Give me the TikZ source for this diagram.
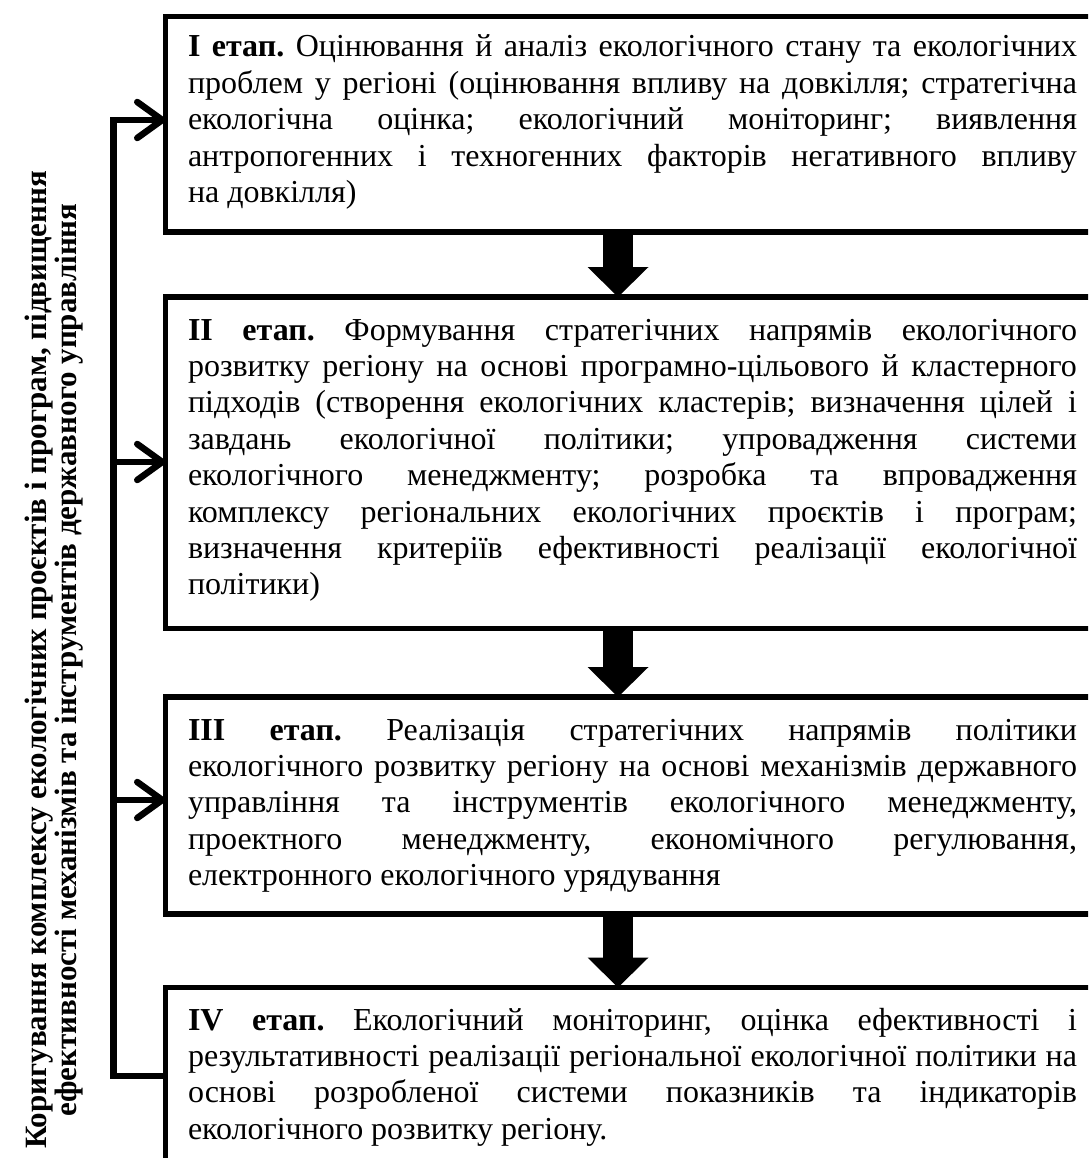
\documentclass[tikz,border=0pt]{standalone}
\usepackage{fontspec}
\setmainfont{Liberation Serif}
\usetikzlibrary{arrows.meta,calc}
\frenchspacing
\newcommand\bdfont{\fontsize{32}{36.4}\selectfont}
\newcommand\sdfont{\fontsize{31}{27}\selectfont\bfseries}
\newcommand\boxtext[1]{\parbox[t]{889pt}{\bdfont\frenchspacing\hyphenpenalty=10000\exhyphenpenalty=10000\tolerance=10000 #1}}
\tikzset{
  stagebox/.style={draw, line width=5.5pt, rectangle, inner sep=0pt, outer sep=0pt, anchor=north west, minimum width=934.5pt},
  stagetext/.style={anchor=base west, inner sep=0pt, outer sep=0pt},
  sidetext/.style={rotate=90, align=center, font=\sdfont, inner sep=0pt},
  blockarrow/.style={line width=30pt, -{Triangle[width=61pt,length=30pt,line width=0pt]}},
  fb/.style={line width=6.5pt, line join=miter},
  fbarrow/.style={line width=6.5pt, -{Straight Barb[length=25pt,width=36pt,round]}}
}
\begin{document}
\begin{tikzpicture}[x=1pt,y=-1pt]
\useasboundingbox (0,0) rectangle (1088,1158);
\begin{scope}
\clip (0,0) rectangle (1088,1158);
\node[stagebox, minimum height=215.25pt] (b1) at (165.5,16.75) {};
\node[stagebox, minimum height=331.5pt] (b2) at (165.5,297) {};
\node[stagebox, minimum height=217pt] (b3) at (165.5,697) {};
\node[stagebox, minimum height=260pt] (b4) at (165.5,987.5) {};

\node[stagetext] (t1) at (188,57) {\boxtext{\textbf{I етап.} Оцінювання й аналіз екологічного стану та екологічних\linebreak
проблем у регіоні (оцінювання впливу на довкілля; стратегічна\linebreak
екологічна оцінка; екологічний моніторинг; виявлення\linebreak
антропогенних і техногенних факторів негативного впливу\linebreak
на довкілля)}};

\node[stagetext] (t2) at (188,340) {\boxtext{\textbf{II етап.} Формування стратегічних напрямів екологічного\linebreak
розвитку регіону на основі програмно-цільового й кластерного\linebreak
підходів (створення екологічних кластерів; визначення цілей і\linebreak
завдань екологічної політики; упровадження системи\linebreak
екологічного менеджменту; розробка та впровадження\linebreak
комплексу регіональних екологічних проєктів і програм;\linebreak
визначення критеріїв ефективності реалізації екологічної\linebreak
політики)}};

\node[stagetext] (t3) at (188,740) {\boxtext{\textbf{III етап.} Реалізація стратегічних напрямів політики\linebreak
екологічного розвитку регіону на основі механізмів державного\linebreak
управління та інструментів екологічного менеджменту,\linebreak
проектного менеджменту, економічного регулювання,\linebreak
електронного екологічного урядування}};

\node[stagetext] (t4) at (188,1030) {\boxtext{\textbf{IV етап.} Екологічний моніторинг, оцінка ефективності і\linebreak
результативності реалізації регіональної екологічної політики на\linebreak
основі розробленої системи показників та індикаторів\linebreak
екологічного розвитку регіону.}};

\draw[blockarrow] ([xshift=452.5pt]b1.south west) -- ([xshift=452.5pt]b2.north west);
\draw[blockarrow] ([xshift=452.5pt]b2.south west) -- ([xshift=452.5pt]b3.north west);
\draw[blockarrow] ([xshift=452.5pt]b3.south west) -- ([xshift=452.5pt]b4.north west);

\coordinate (c1) at (113.5,120);
\coordinate (c2) at (113.5,462);
\coordinate (c3) at (113.5,800);
\coordinate (c4) at (113.5,1076);
\draw[fb] (c4 -| b4.west) -- (c4) -- (c1) -- ([xshift=-3.25pt]c1);
\draw[fbarrow] (c1) -- (c1 -| b1.west);
\draw[fbarrow] (c2) -- (c2 -| b2.west);
\draw[fbarrow] (c3) -- (c3 -| b3.west);

\node[sidetext] (side) at (54,660) {Коригування комплексу екологічних проєктів і програм, підвищення\\ефективності механізмів та інструментів державного управління};
\end{scope}
\end{tikzpicture}
\end{document}
